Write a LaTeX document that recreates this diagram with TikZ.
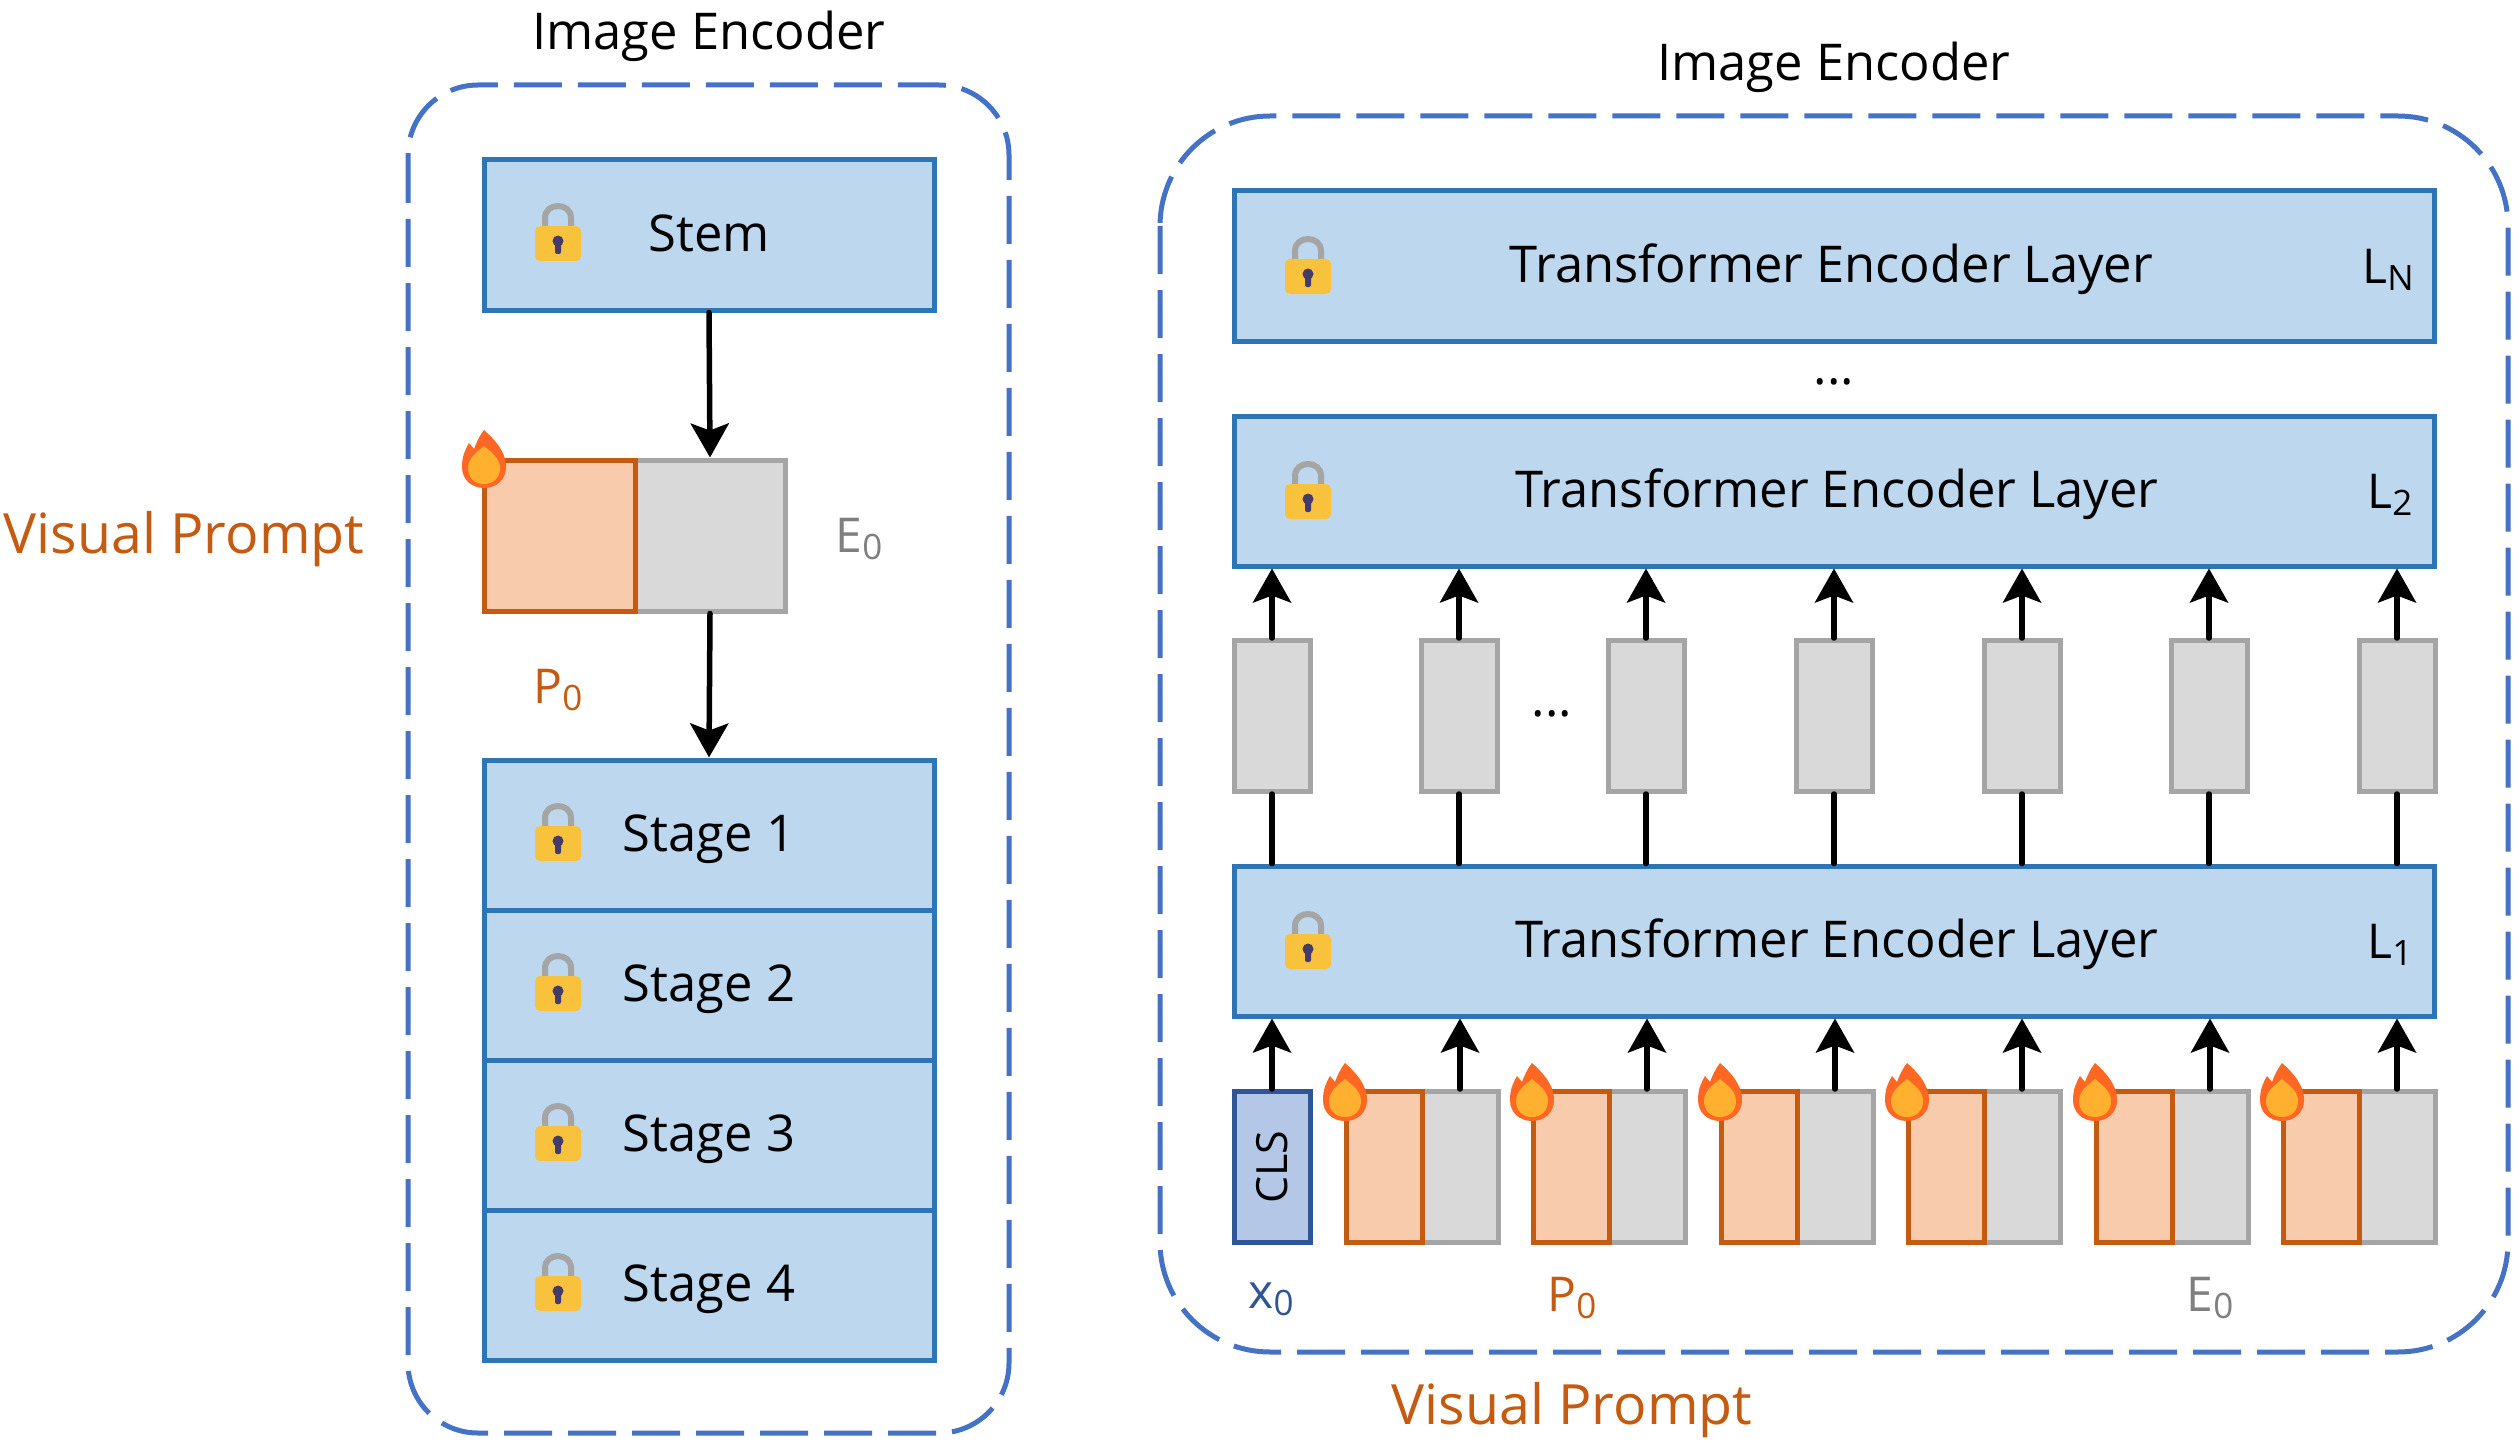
\documentclass[tikz,border=0pt]{standalone}
\usepackage{fontspec}
\setmainfont{Open Sans}
\usetikzlibrary{arrows.meta,positioning}
\definecolor{blueedge}{HTML}{2E75B6}
\definecolor{bluefill}{HTML}{BDD7EE}
\definecolor{dashblue}{HTML}{4472C4}
\definecolor{orangeedge}{HTML}{C55A11}
\definecolor{orangefill}{HTML}{F8CBAD}
\definecolor{grayedge}{HTML}{A5A5A5}
\definecolor{grayfill}{HTML}{D9D9D9}
\definecolor{clsedge}{HTML}{2F5597}
\definecolor{clsfill}{HTML}{B4C7E7}
\definecolor{graytext}{HTML}{7F7F7F}
\definecolor{lockbody}{HTML}{F9C23C}
\definecolor{lockhole}{HTML}{433B6B}
\definecolor{flameouter}{HTML}{FF6723}
\definecolor{flameinner}{HTML}{FFB02E}
\newcommand{\sublow}[1]{\raisebox{-7pt}{\fontsize{35}{35}\selectfont #1}}
\tikzset{x=1pt,y=1pt,
    layerbox/.style={draw=blueedge,fill=bluefill,line width=5pt,minimum height=150pt,text height=33pt,text depth=0pt,font=\fontsize{50.7}{60}\selectfont},
    promptbox/.style={draw=orangeedge,fill=orangefill,line width=5pt,inner sep=0pt},
    embedbox/.style={draw=grayedge,fill=grayfill,line width=5pt,inner sep=0pt},
    clsbox/.style={draw=clsedge,fill=clsfill,line width=5pt,inner sep=0pt,font=\fontsize{43}{50}\selectfont},
    encoderframe/.style={draw=dashblue,line width=5pt,dash pattern=on 48pt off 16pt},
    arrowline/.style={line width=5.5pt,line cap=round,-{Stealth[length=34pt,width=38pt,inset=7pt]}},
    plainline/.style={line width=5.5pt,line cap=round},
    caption/.style={font=\fontsize{50.7}{60}\selectfont},
    promptcaption/.style={font=\fontsize{55.5}{66}\selectfont,text=orangeedge},
    sublabel/.style={font=\fontsize{48}{58}\selectfont},
    pics/lockicon/.style={code={
        \draw[line width=6pt,draw=grayedge] (-13,0) -- (-13,15) .. controls (-13,31) and (13,31) .. (13,15) -- (13,0);
        \fill[fill=lockbody,rounded corners=5pt] (-23,-28) rectangle (23,7);
        \fill[fill=lockhole] (0,-8) circle (5.5pt);
        \fill[fill=lockhole,rounded corners=2pt] (-3,-21) rectangle (3,-8);
    }},
    pics/flameicon/.style={code={
        \fill[fill=flameouter] (0,29) .. controls (10,20) and (22,8) .. (22,-8)
            .. controls (22,-21) and (12,-29) .. (0,-29)
            .. controls (-12,-29) and (-22,-21) .. (-22,-8)
            .. controls (-22,3) and (-19,9) .. (-15,16) -- (-10,10)
            .. controls (-8,16) and (-4,24) .. (0,29) -- cycle;
        \fill[fill=flameinner] (0,13) .. controls (7,7) and (16,1) .. (16,-9)
            .. controls (16,-19) and (9,-25) .. (0,-25)
            .. controls (-9,-25) and (-16,-19) .. (-16,-9)
            .. controls (-16,1) and (-7,7) .. (0,13) -- cycle;
    }},
    }

\begin{document}
\begin{tikzpicture}
\useasboundingbox (0,0) rectangle (2520,-1450);

\draw[encoderframe,rounded corners=70pt] (408,-85) rectangle (1009,-1433);
\draw[encoderframe,rounded corners=110pt] (1160,-116) rectangle (2508,-1352);

\node[caption] (titleleft) at (709,-36) {Image Encoder};
\node[caption] (titleright) at (1834,-67) {Image Encoder};
\node[promptcaption] (promptleft) at (184,-539) {Visual Prompt};
\node[promptcaption] (promptright) at (1572,-1410) {Visual Prompt};

\node[layerbox,minimum width=450pt] (stem) at (709,-235) {Stem};
\node[embedbox,minimum width=151pt,minimum height=151pt] (embedleft) at (710,-535.5) {};
\node[promptbox,minimum width=151pt,minimum height=151pt] (promptboxleft) at (559.5,-535.5) {};
\node[sublabel,text=graytext] (eleft) at (859,-539) {E\sublow{0}};
\node[sublabel,text=orangeedge] (pleft) at (558,-690) {P\sublow{0}};

\foreach \i/\y in {1/835,2/985,3/1135,4/1285}{
    \node[layerbox,minimum width=450pt] (stage\i) at (709,-\y) {Stage \i};
    \pic at (558,-\y+2) {lockicon};
}
\pic at (558,-233) {lockicon};
\draw[arrowline] (stem.south) -- (embedleft.north);
\draw[arrowline] (embedleft.south) -- (stage1.north);
\pic at (484,-459) {flameicon};

\node[layerbox,minimum width=1200pt] (layerN) at (1834.5,-266) {\hspace*{-6pt}Transformer Encoder Layer};
\node[layerbox,minimum width=1200pt] (layertwo) at (1834.5,-491) {\hspace*{5pt}Transformer Encoder Layer};
\node[layerbox,minimum width=1200pt] (layerone) at (1834.5,-941) {\hspace*{5pt}Transformer Encoder Layer};
\node[sublabel] (labelN) at (2388,-270) {L\sublow{N}};
\node[sublabel] (labeltwo) at (2390,-495) {L\sublow{2}};
\node[sublabel] (labelone) at (2390,-945) {L\sublow{1}};
\node[caption] (dotstop) at (1834,-382) {...};
\node[caption] (dotsmid) at (1552,-714) {...};
\foreach \y in {266,491,941}{
    \pic at (1308,-\y) {lockicon};
}

\foreach \i/\x in {1/1272,2/1459,3/1646,4/1834,5/2022,6/2209,7/2397}{
    \node[embedbox,minimum width=76pt,minimum height=151pt] (token\i) at (\x,-716) {};
    \draw[arrowline] (token\i.north) -- (token\i.north |- layertwo.south);
    \draw[plainline] (token\i.south) -- (token\i.south |- layerone.north);
}

\node[clsbox,rotate=90,minimum width=151pt,minimum height=76pt] (cls) at (1272,-1167) {CLS};
\draw[arrowline] (cls.east) -- (cls.east |- layerone.south);
\foreach \i/\x in {1/1460,2/1647,3/1835,4/2022,5/2210,6/2397}{
    \node[embedbox,minimum width=76pt,minimum height=151pt] (patch\i) at (\x,-1167) {};
    \node[promptbox,minimum width=76pt,minimum height=151pt,left=-5pt of patch\i] (prompt\i) {};
    \draw[arrowline] (patch\i.north) -- (patch\i.north |- layerone.south);
    \pic at (\x-115,-1092) {flameicon};
}
\node[sublabel,text=clsedge] (xlabel) at (1271,-1299) {x\sublow{0}};
\node[sublabel,text=orangeedge] (plabel) at (1572,-1298) {P\sublow{0}};
\node[sublabel,text=graytext] (elabel) at (2210,-1298) {E\sublow{0}};
\end{tikzpicture}
\end{document}
